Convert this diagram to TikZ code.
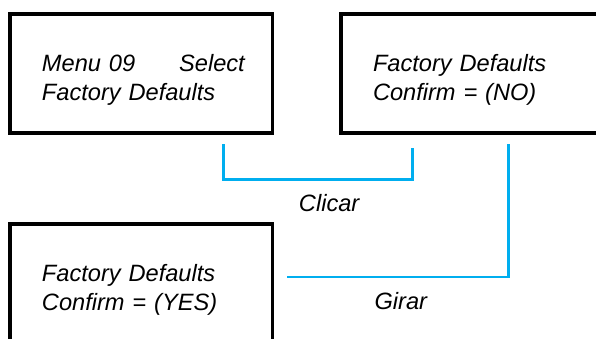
\documentclass[tikz,border=0pt]{standalone}
\usepackage{fontspec}
\setmainfont{Liberation Sans}
\usetikzlibrary{positioning}
\definecolor{linkblue}{RGB}{0,174,239}

\tikzset{
    screen/.style={draw, line width=2.3pt, text width=4.97cm,
        inner xsep=0.8cm, minimum height=2.975cm, align=left,
        font=\fontsize{16.8}{20.3}\selectfont\itshape,
        execute at begin node={\rule{0pt}{21pt}}},
    link/.style={linkblue, line width=1.9pt},
    lbl/.style={text=black, inner sep=0pt,
        font=\fontsize{16.8}{20.3}\selectfont\itshape}
}

\begin{document}
\begin{tikzpicture}
        \useasboundingbox (0, 0) rectangle (14.9, 8.45);
        \node[screen] (menu) at (3.534, 6.6125)
            {\mbox{Menu 09\hspace{1.1cm}Select}\\Factory Defaults};
        \node[screen] (no) at (11.81, 6.6125)
            {Factory Defaults\\Confirm = (NO)};
        \node[screen] (yes) at (3.534, 1.3625)
            {Factory Defaults\\Confirm = (YES)};
        \coordinate (clicA) at (5.58, 4.85);
        \coordinate (clicB) at (10.31, 4.75);
        \coordinate (girA) at (12.71, 4.85);
        \coordinate (girB) at (7.175, 1.525);
        \draw[link] (clicA) -- ++(0, -0.8825) -| (clicB)
            node [lbl, pos=0.28, below=0.335cm] {Clicar};
        \draw[link] (girA) |- (girB)
            node [lbl, pos=0.743, below=0.35cm] {Girar};
    \end{tikzpicture}
\end{document}
